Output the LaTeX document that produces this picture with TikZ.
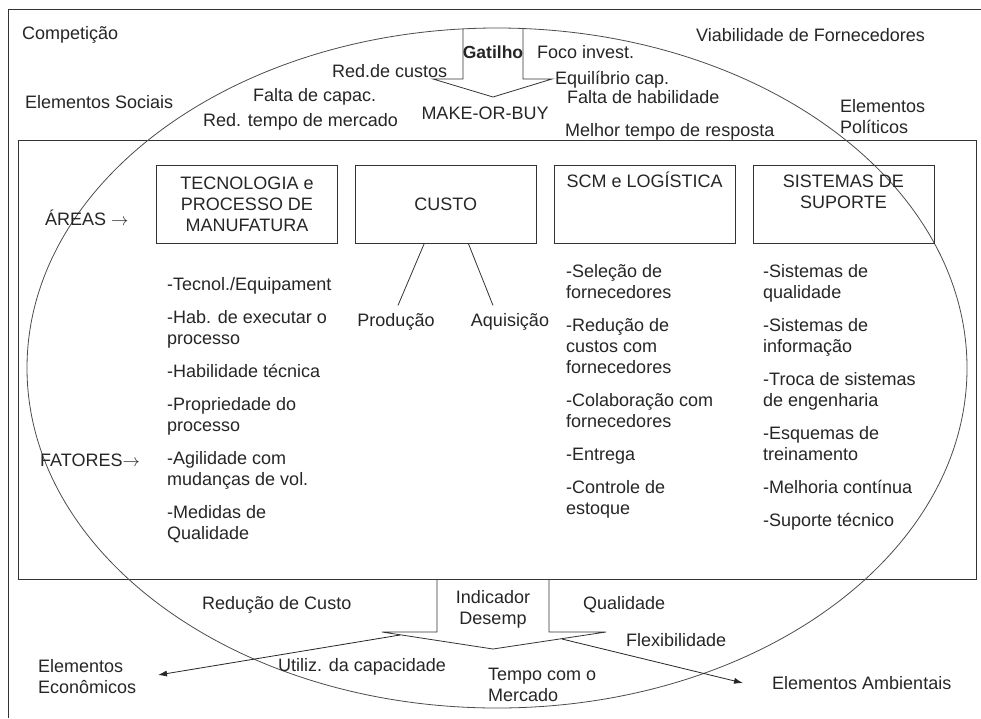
\documentclass[tikz,border=0pt]{standalone}
\usepackage{fontspec}
\setmainfont{Liberation Sans}
\usetikzlibrary{arrows.meta,positioning,calc}

\begin{document}
\begin{tikzpicture}[
    x=1pt, y=-1pt,
    font=\fontsize{18}{21}\selectfont,
    node distance=17pt,
    area/.style={draw=black!80, line width=0.8pt, minimum width=181pt, minimum height=78pt, align=center, inner sep=0pt, text=black!85},
    txt/.style={inner sep=0pt, text=black!85},
    lista/.style={inner sep=0pt, align=left, anchor=north west, text=black!85},
    linha/.style={draw=black!80, line width=0.8pt},
    seta/.style={-{Latex[length=9pt,width=6pt]}, draw=black!85, line width=0.8pt},
]
    \fill[white] (0,0) rectangle (981,718);
    \useasboundingbox (0,0) rectangle (981,718);
    \draw[linha] (8.5,718) -- (8.5,9.5) -- (981,9.5);

    \node[linha, anchor=north west, minimum width=958pt, minimum height=439pt, inner sep=0pt] (quadro) at (18,140) {};
    \draw[black!70, line width=0.8pt] (497,368) ellipse [x radius=470pt, y radius=340pt];

    % gatilho
    \draw[linha] (463,29) -- (463,79) -- (433,79) -- (493,97) -- (552,79) -- (523,79) -- (523,28.5);
    \node[txt, font=\fontsize{17.5}{20}\selectfont\bfseries] (gat) at (493,52) {Gatilho};
    \node[txt, anchor=west] (comp) at (22,35) {Competição};
    \node[txt, anchor=west] (viab) at (696,35) {Viabilidade de Fornecedores};
    \node[txt, anchor=west] (redc) at (332,71) {Red.de custos};
    \node[txt, anchor=west] (foco) at (537,52) {Foco invest.};
    \node[txt, anchor=west] (equil) at (555,80) {Equilíbrio cap.};
    \node[txt, anchor=west] (fcap) at (253,97) {Falta de capac.};
    \node[txt, anchor=west] (fhab) at (567,97) {Falta de habilidade};
    \node[txt, anchor=west] (soc) at (25,102) {Elementos Sociais};
    \node[txt, anchor=west] (rtm) at (203,122) {Red. tempo de mercado};
    \node[txt] (mob) at (485,113) {MAKE-OR-BUY};
    \node[txt, anchor=west] (mtr) at (565,132) {Melhor tempo de resposta};
    \node[txt, anchor=west, align=left] (pol) at (840,117) {Elementos\\Políticos};

    % areas
    \node[area] (tec) at (247,204) {TECNOLOGIA e\\PROCESSO DE\\MANUFATURA};
    \node[area, right=of tec] (custo) {CUSTO};
    \node[area, right=of custo] (scm) {\strut SCM e LOGÍSTICA\\\strut\\\strut};
    \node[area, right=of scm] (sis) {\strut SISTEMAS DE\\SUPORTE\\\strut};
    \node[txt, anchor=west] (areas) at (45,218) {ÁREAS $\rightarrow$};
    \node[txt, anchor=west] (fat) at (40,460) {FATORES$\rightarrow$};

    \node[txt] (prod) at (396,322) {Produção};
    \node[txt] (aquis) at (510,322) {Aquisição};
    \draw[linha] ($(custo.south)+(-21.5,0)$) -- ($(prod.north)+(2,-8)$);
    \draw[linha] ($(custo.south)+(22.5,0)$) -- ($(aquis.north)+(-17,-8)$);

    % fatores
    \node[lista] (ltec) at (167,277) {-Tecnol./Equipament\\[12pt]-Hab. de executar o\\processo\\[12pt]-Habilidade técnica\\[12pt]-Propriedade do\\processo\\[12pt]-Agilidade com\\mudanças de vol.\\[12pt]-Medidas de\\Qualidade};
    \node[lista] (lscm) at (566,264) {-Seleção de\\fornecedores\\[12pt]-Redução de\\custos com\\fornecedores\\[12pt]-Colaboração com\\fornecedores\\[12pt]-Entrega\\[12pt]-Controle de\\estoque};
    \node[lista] (lsis) at (763,264) {-Sistemas de\\qualidade\\[12pt]-Sistemas de\\informação\\[12pt]-Troca de sistemas\\de engenharia\\[12pt]-Esquemas de\\treinamento\\[12pt]-Melhoria contínua\\[12pt]-Suporte técnico};

    % indicador de desempenho
    \draw[linha] (437,579) -- (437,632) -- (382,632) -- (493,649) -- (606,632) -- (549,632) -- (549,579);
    \node[txt, align=center] (ind) at (493,609) {Indicador\\Desemp};
    \node[txt, anchor=west] (redcusto) at (202,605) {Redução de Custo};
    \node[txt, anchor=west] (qual) at (583,605) {Qualidade};
    \node[txt, anchor=west] (flex) at (626,640) {Flexibilidade};
    \node[txt, anchor=west] (util) at (278,667) {Utiliz. da capacidade};
    \node[txt, anchor=west, align=left] (tempo) at (488,685) {Tempo com o\\Mercado};
    \node[txt, anchor=west, align=left] (eco) at (38,677) {Elementos\\Econômicos};
    \node[txt, anchor=west] (amb) at (772,683) {Elementos Ambientais};

    \coordinate (desL) at (400,635);
    \coordinate (desR) at (562,639);
    \coordinate (ecoTip) at (158,675);
    \coordinate (ambTip) at (743,683);
    \draw[seta] (desL) -- (ecoTip);
    \draw[seta] (desR) -- (ambTip);
\end{tikzpicture}
\end{document}
